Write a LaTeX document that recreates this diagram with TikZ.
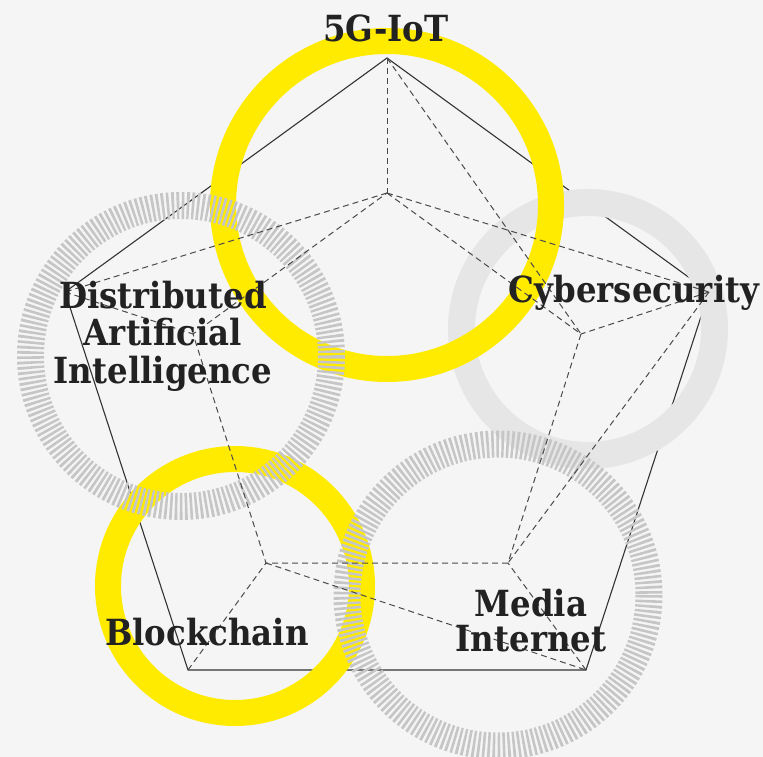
\documentclass[tikz,border=0pt]{standalone}
\usepackage{fontspec}
\newfontfamily\lblfont{DejaVu Serif}[FakeStretch=0.9]
\definecolor{bg}{HTML}{F5F5F5}
\definecolor{ylw}{HTML}{FFEB00}
\definecolor{lgray}{HTML}{E6E6E6}
\definecolor{hgray}{HTML}{C6C6C6}
\definecolor{ink}{HTML}{222222}
\definecolor{edge}{HTML}{333333}
\definecolor{dash}{HTML}{4A4A4A}
\begin{document}
\begin{tikzpicture}[x=1pt,y=-1pt,
  solidedge/.style={draw=edge, line width=1.1pt},
  dashedge/.style={draw=dash, line width=1pt, dash pattern=on 6pt off 4pt},
  yring/.style={draw=ylw, line width=26pt},
  gring/.style={draw=lgray, line width=27pt},
  hring/.style={draw=hgray, line width=27pt, dash pattern=on 2.6pt off 2.4pt},
  lbl/.style={text=ink, font=\lblfont\bfseries\fontsize{36}{37.5}\selectfont, inner sep=0pt, align=center}
]
\fill[bg] (0,0) rectangle (763,757);
\useasboundingbox (0,0) rectangle (763,757);
% outer pentagon vertices
\coordinate (T) at (387,58);
\coordinate (R) at (709,292);
\coordinate (BR) at (586,670);
\coordinate (BL) at (188,670);
\coordinate (L) at (65,292);
% inner pentagon vertices
\coordinate (t) at (387,193);
\coordinate (r) at (581,334);
\coordinate (br) at (508,563);
\coordinate (bl) at (266,563);
\coordinate (l) at (193,334);
% solid outer pentagon
\draw[solidedge] (T) -- (R) -- (BR) -- (BL) -- (L) -- cycle;
% rings
\draw[gring] (588,329) circle (126.5);
\draw[yring] (387,205) circle (164);
\draw[yring] (235,586) circle (127);
\draw[hring] (181,356) circle (150.5);
\draw[hring] (498,595) circle (151);
% dashed structure
\draw[dashedge] (t) -- (r) -- (br) -- (bl) -- (l) -- cycle;
\draw[dashedge] (T) -- (t);
\draw[dashedge] (R) -- (r);
\draw[dashedge] (BR) -- (br);
\draw[dashedge] (BL) -- (bl);
\draw[dashedge] (L) -- (l);
\draw[dashedge] (T) -- (r);
\draw[dashedge] (t) -- (R);
\draw[dashedge] (t) -- (L);
\draw[dashedge] (R) -- (br);
\draw[dashedge] (bl) -- (BR);
% labels
\node[lbl, anchor=base] (iot) at (386,42) {5G-IoT};
\node[lbl, anchor=base] (cyber) at (634,302) {Cybersecurity};
\node[lbl] (dai) at (163,336) {Distributed\\Artificial\\Intelligence};
\node[lbl, anchor=base] (block) at (207,645) {Blockchain};
\node[lbl, font=\lblfont\bfseries\fontsize{36}{35}\selectfont] (media) at (531,621) {Media\\Internet};
\end{tikzpicture}
\end{document}
